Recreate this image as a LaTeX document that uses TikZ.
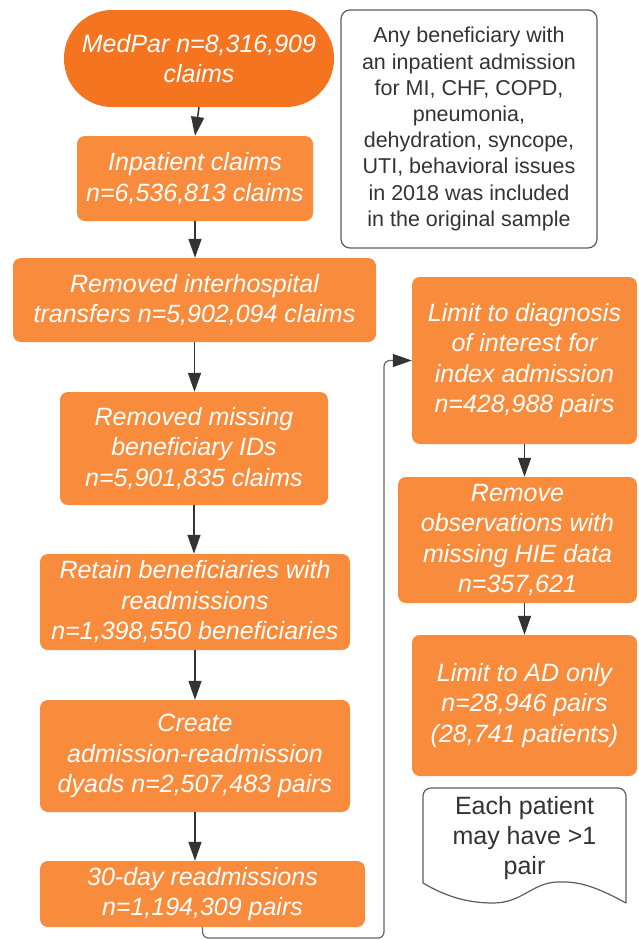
\documentclass[tikz,border=0pt]{standalone}
\usepackage{fontspec}
\setmainfont{Liberation Sans}
\usetikzlibrary{arrows.meta, positioning, calc}
\definecolor{pillorange}{HTML}{F5741F}
\definecolor{boxorange}{HTML}{F98B3C}
\definecolor{darkline}{HTML}{333333}

\begin{document}
\begin{tikzpicture}[x=1pt, y=-1pt, >={Triangle[length=19pt, width=13pt]},
    stepbox/.style={fill=boxorange, rounded corners=8pt, text=white, align=center,
      inner sep=0pt, font=\fontsize{25}{30.5}\selectfont\itshape},
    pill/.style={stepbox, fill=pillorange, rounded corners=48pt},
    notebox/.style={draw=darkline!80, line width=1.2pt, rounded corners=9pt, align=center,
      text=darkline, inner sep=0pt, font=\fontsize{21.5}{26.2}\selectfont},
    flow/.style={->, darkline, line width=1.5pt},
    loopline/.style={-{Triangle[length=19pt, width=13pt, color=darkline]},
      draw=gray!80!black, line width=1.2pt, rounded corners=6pt}]
      \useasboundingbox (0,0) rectangle (638,940);

      % left column
      \node[pill, minimum width=270pt, minimum height=97pt] (medpar) at (199,58.5)
        {MedPar n=8,316,909\\claims};
      \node[stepbox, minimum width=236pt, minimum height=85pt] (inp) at (195,178.5)
        {Inpatient claims\\n=6,536,813 claims};
      \node[stepbox, minimum width=363pt, minimum height=84pt] (trans) at (194.5,300)
        {Removed interhospital\\transfers n=5,902,094 claims};
      \node[stepbox, minimum width=268pt, minimum height=113pt] (miss) at (194,448.5)
        {Removed missing\\beneficiary IDs\\n=5,901,835 claims};
      \node[stepbox, minimum width=310pt, minimum height=96pt] (ret) at (195,602)
        {Retain beneficiaries with\\readmissions\\n=1,398,550 beneficiaries};
      \node[stepbox, minimum width=310pt, minimum height=112pt] (dyad) at (195,756)
        {Create\\admission-readmission\\dyads n=2,507,483 pairs};
      \node[stepbox, minimum width=325pt, minimum height=66pt] (thirty) at (202.5,894)
        {30-day readmissions\\n=1,194,309 pairs};

      % note
      \node[notebox, minimum width=256pt, minimum height=238pt] (note) at (469,129)
        {Any beneficiary with\\an inpatient admission\\for MI, CHF, COPD,\\pneumonia,\\dehydration, syncope,\\UTI, behavioral issues\\in 2018 was included\\in the original sample};

      % right column
      \node[stepbox, minimum width=225pt, minimum height=167pt] (diag) at (524.5,360.5)
        {Limit to diagnosis\\of interest for\\index admission\\n=428,988 pairs};
      \node[stepbox, minimum width=239pt, minimum height=126pt] (hie) at (517.5,540)
        {Remove\\observations with\\missing HIE data\\n=357,621};
      \node[stepbox, minimum width=225pt, minimum height=141pt] (ad) at (524.5,705.5)
        {Limit to AD only\\n=28,946 pairs\\(28,741 patients)};

      % document shape
      \draw[darkline!80, line width=1.2pt, rounded corners=8pt]
        (423,883) -- (423,788) -- (626,788) -- (626,903);
      \draw[darkline!80, line width=1.2pt]
        (626,903) .. controls (595,886) and (578,881) .. (557,882)
        .. controls (532,883) and (522,903) .. (493,903)
        .. controls (462,903) and (440,893) .. (423,883);
      \node[align=center, text=darkline, font=\fontsize{25}{30}\selectfont] (doc) at (524.5,838)
        {Each patient\\may have >1\\pair};

      % arrows
      \draw[flow] (medpar.south) -- (inp.north);
      \draw[flow] (inp.south) -- (inp.south |- trans.north);
      \draw[flow] (trans.south) -- (trans.south |- miss.north);
      \draw[flow] (miss.south) -- (miss.south |- ret.north);
      \draw[flow] (ret.south) -- (ret.south |- dyad.north);
      \draw[flow] (dyad.south) -- (dyad.south |- thirty.north);
      \draw[flow] (diag.south) -- (diag.south |- hie.north);
      \draw[flow] (diag.south |- hie.south) -- (diag.south |- ad.north);

      \coordinate (turn) at (384,938);
      \draw[loopline] (thirty.south) |- (turn) |- (diag.west);

    \end{tikzpicture}
\end{document}
